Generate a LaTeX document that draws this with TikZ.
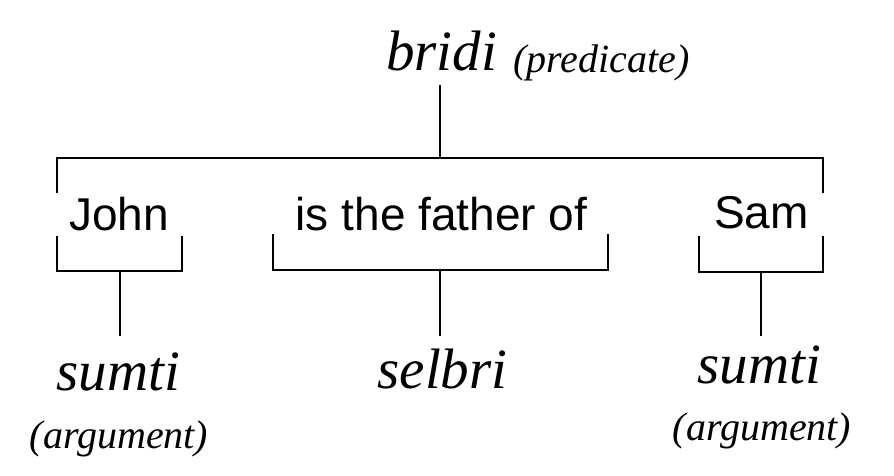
\documentclass[tikz,border=0pt]{standalone}
\usepackage{fontspec}
\setmainfont{Liberation Serif}
\newfontfamily\plainsans{Liberation Sans}
\begin{document}
\begin{tikzpicture}[x=1pt,y=-1pt,
  bigital/.style={inner sep=0pt,anchor=base,font=\fontsize{57}{60}\selectfont\itshape},
  smallital/.style={inner sep=0pt,anchor=base,font=\fontsize{40}{44}\selectfont\itshape},
  sanslabel/.style={inner sep=0pt,anchor=base,font=\plainsans\fontsize{46}{50}\selectfont},
  treeline/.style={line width=2.2pt,black}]
\useasboundingbox (0,0) rectangle (894,475);
% texts
\node[bigital] (bridi) at (441.5,70) {bridi};
\node[smallital,anchor=base west] (pred) at (513,72) {(predicate)};
\node[sanslabel] (john) at (119,230) {John};
\node[sanslabel] (father) at (441.5,230) {is the father of};
\node[sanslabel] (sam) at (761.5,228) {Sam};
\node[bigital] (sumtiL) at (118.5,390) {sumti};
\node[bigital] (selbri) at (442.5,388) {selbri};
\node[bigital] (sumtiR) at (759.5,383) {sumti};
\node[smallital] (argL) at (119,448) {(argument)};
\node[smallital] (argR) at (762,440) {(argument)};
% coordinates
\coordinate (bstem) at (440,85);
\coordinate (bjoin) at (440,158);
\coordinate (barL) at (57,158);
\coordinate (barR) at (823,158);
\coordinate (dropL) at (57,193);
\coordinate (dropR) at (823,193);
\coordinate (jTL) at (57,236);
\coordinate (jTR) at (182,236);
\coordinate (jBL) at (57,271);
\coordinate (jBR) at (182,271);
\coordinate (jmid) at (120,271);
\coordinate (jend) at (120,336);
\coordinate (fTL) at (273,234);
\coordinate (fTR) at (608,234);
\coordinate (fBL) at (273,270);
\coordinate (fBR) at (608,270);
\coordinate (fmid) at (440,270);
\coordinate (fend) at (440,336);
\coordinate (sTL) at (699,236);
\coordinate (sTR) at (823,236);
\coordinate (sBL) at (699,272);
\coordinate (sBR) at (823,272);
\coordinate (smid) at (761,272);
\coordinate (send) at (761,336);
% lines
\draw[treeline] (bstem) -- (bjoin);
\draw[treeline] (dropL) -- (barL) -- (barR) -- (dropR);
\draw[treeline] (jTL) -- (jBL) -- (jBR) -- (jTR);
\draw[treeline] (fTL) -- (fBL) -- (fBR) -- (fTR);
\draw[treeline] (sTL) -- (sBL) -- (sBR) -- (sTR);
\draw[treeline] (jmid) -- (jend);
\draw[treeline] (fmid) -- (fend);
\draw[treeline] (smid) -- (send);
\end{tikzpicture}
\end{document}
